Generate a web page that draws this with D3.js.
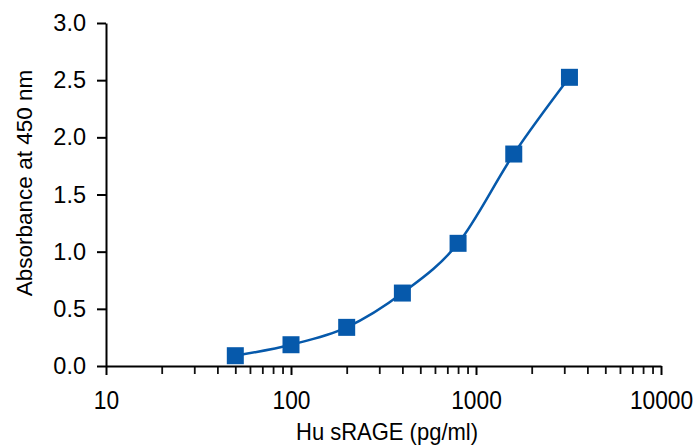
<!DOCTYPE html>
<html><head><meta charset="utf-8">
<script src="https://cdn.jsdelivr.net/npm/d3@7"></script>
<style>html,body{margin:0;padding:0;background:#fff}</style>
</head><body>
<svg id="chart" width="694" height="446"></svg>
<script>
const concentrations = [50, 100, 200, 400, 800, 1600, 3200];
const absorbance = [0.09, 0.186, 0.338, 0.638, 1.073, 1.854, 2.525];
const xTickValues = [10, 100, 1000, 10000];
const yTickValues = [0, 0.5, 1.0, 1.5, 2.0, 2.5, 3.0];
const xTitle = "Hu sRAGE (pg/ml)";
const yTitle = "Absorbance at 450 nm";

const svg = d3.select("#chart");
const mLeft = 106, mRight = 661, mTop = 23, mBottom = 366;
const blue = "#0659AB";
const x = d3.scaleLog().domain([10, 10000]).range([mLeft, mRight]);
const y = d3.scaleLinear().domain([0, 3]).range([mBottom, mTop]);

// minor ticks
const minor = [];
for (let d = 10; d < 10000; d *= 10) for (let k = 2; k <= 9; k++) minor.push(d * k);

const xAxis = svg.append("g").attr("transform", `translate(0,${mBottom})`)
  .call(d3.axisBottom(x).tickValues(minor).tickSize(8).tickFormat(""));
xAxis.select(".domain").remove();
xAxis.selectAll("line").attr("stroke", "#111").attr("stroke-width", 1.8);

const xMajor = svg.append("g").attr("transform", `translate(0,${mBottom})`)
  .call(d3.axisBottom(x).tickValues(xTickValues).tickSize(9).tickSizeOuter(0).tickPadding(16).tickFormat(d3.format("d")));
xMajor.select(".domain").attr("stroke", "#000").attr("stroke-width", 2);
xMajor.selectAll("line").attr("stroke", "#000").attr("stroke-width", 2);
xMajor.selectAll("text").attr("font-family", "'Liberation Sans', Arial, sans-serif")
  .attr("font-size", 25).attr("fill", "#000")
  .attr("transform", "scale(0.91,1)");

const yAxis = svg.append("g").attr("transform", `translate(${mLeft},0)`)
  .call(d3.axisLeft(y).tickValues(yTickValues).tickSize(9).tickSizeOuter(0).tickPadding(11).tickFormat(d3.format(".1f")));
yAxis.select(".domain").attr("stroke", "#000").attr("stroke-width", 2);
yAxis.selectAll("line").attr("stroke", "#000").attr("stroke-width", 2);
yAxis.selectAll("text").attr("font-family", "'Liberation Sans', Arial, sans-serif")
  .attr("font-size", 23.5).attr("fill", "#000");

const pts = concentrations.map((c, i) => [c, absorbance[i]]);
const line = d3.line().x(d => x(d[0])).y(d => y(d[1])).curve(d3.curveMonotoneX);
svg.append("path").datum(pts).attr("d", line).attr("fill", "none")
  .attr("stroke", blue).attr("stroke-width", 2.5);

const s = 17;
svg.append("g").selectAll("rect").data(pts).join("rect")
  .attr("x", d => x(d[0]) - s / 2).attr("y", d => y(d[1]) - s / 2)
  .attr("width", s).attr("height", s).attr("fill", blue);

svg.append("text").attr("x", 387).attr("y", 440)
  .attr("text-anchor", "middle").attr("font-family", "'Liberation Sans', Arial, sans-serif")
  .attr("font-size", 24).attr("fill", "#000")
  .attr("textLength", 182).attr("lengthAdjust", "spacingAndGlyphs").text(xTitle);

svg.append("text").attr("transform", `translate(32,183) rotate(-90)`)
  .attr("text-anchor", "middle").attr("font-family", "'Liberation Sans', Arial, sans-serif")
  .attr("font-size", 22.5).attr("fill", "#000").text(yTitle);
</script>
</body></html>
